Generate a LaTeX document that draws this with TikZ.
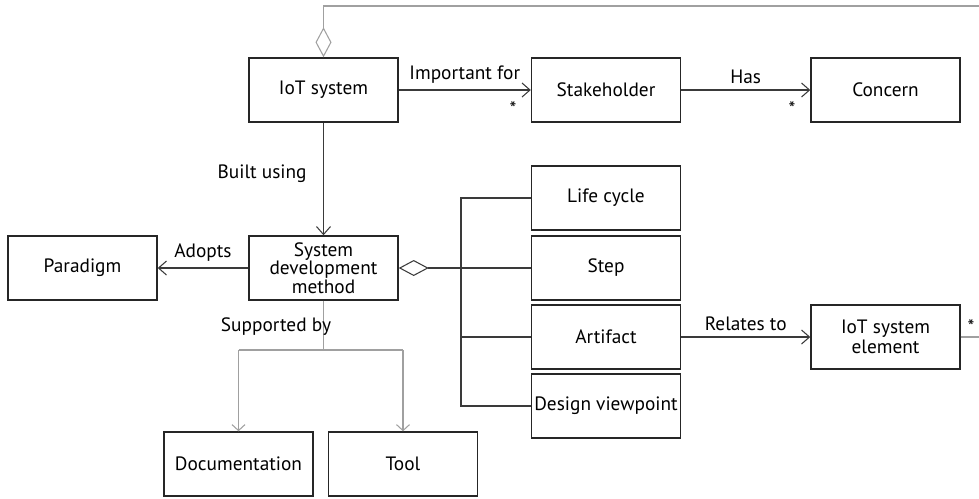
\documentclass[tikz,border=0pt]{standalone}
\usepackage{fontspec}
\setmainfont{PT Sans}
\usepackage{tikz}
\usetikzlibrary{positioning,arrows.meta,calc}
\definecolor{lnk}{HTML}{3A3A3A}
\definecolor{soft}{HTML}{A0A0A0}

\begin{document}
\begin{tikzpicture}[x=0.2mm, y=-0.2mm,
  box/.style={draw=black!85, line width=0.8pt, minimum width=29.8mm, minimum height=12.8mm,
    align=center, font=\fontsize{11}{11}\selectfont, inner sep=1pt},
  assoc/.style={draw=lnk, line width=0.6pt, -{Straight Barb[length=1.6mm, width=2.8mm]}},
  plain/.style={draw=lnk, line width=0.6pt},
  grey/.style={draw=soft, line width=0.6pt},
  agg/.style={{Diamond[open, length=6mm, width=3.2mm]}-},
  lbl/.style={font=\fontsize{11}{12.5}\selectfont},
  mult/.style={font=\fontsize{11}{12}\selectfont}
]
  \useasboundingbox (0,0) rectangle (979,498);

  % --- top row ---
  \node[box] (iot) at (323.5,90) {IoT system};
  \node[box] (stake) at (606,90) {Stakeholder};
  \node[box] (concern) at (885.5,90) {Concern};

  % --- method row ---
  \node[box] (sdm) at (323.5,268) {System\\[-0.5pt]development\\[-0.5pt]method};
  \node[box] (paradigm) at (82.5,268) {Paradigm};

  % --- parts of the method ---
  \node[box] (life) at (606,198) {Life cycle};
  \node[box] (step) at (606,268) {Step};
  \node[box] (artifact) at (606,337) {Artifact};
  \node[box] (viewpt) at (606,406) {Design viewpoint};
  \node[box] (elem) at (885.5,337) {IoT system\\element};

  % --- support ---
  \node[box] (doc) at (238.5,464) {Documentation};
  \node[box] (tool) at (403,464) {Tool};

  % --- associations ---
  \draw[assoc] (iot.east) -- node[lbl, above=0pt]{Important for} (stake.west);
  \node[mult] at (513,109) {*};
  \draw[assoc] (stake.east) -- node[lbl, above=0pt]{Has} (concern.west);
  \node[mult] at (792,109) {*};
  \draw[assoc] (iot.south) -- node[lbl, left=6pt, pos=0.45]{Built using} (sdm.north);
  \draw[assoc] (sdm.west) -- node[lbl, above=0pt]{Adopts} (paradigm.east);
  \draw[assoc] (artifact.east) -- node[lbl, above=0pt]{Relates to} (elem.west);

  % --- aggregations ---
  \coordinate (topr) at (979,6);
  \draw[grey, agg] (iot.north) -- (iot.north |- topr) -- (topr);
  \coordinate (rgtr) at (979,337);
  \draw[grey] (elem.east) -- (rgtr);
  \node[mult] at (971,327) {*};

  \coordinate (bus) at (461,268);
  \draw[plain, agg] (sdm.east) -- (step.west);
  \draw[plain] (life.west) -| (bus |- viewpt.west) -- (viewpt.west);
  \draw[plain] (bus |- artifact.west) -- (artifact.west);

  % --- supported by ---
  \coordinate (fork) at (323.5,350);
  \draw[grey] (sdm.south) -- (fork);
  \node[lbl] at (276,327) {Supported by};
  \draw[grey] (doc.north |- fork) -- (tool.north |- fork);
  \draw[grey, -{Straight Barb[length=1.2mm, width=2.6mm]}] (doc.north |- fork) -- (doc.north);
  \draw[grey, -{Straight Barb[length=1.2mm, width=2.6mm]}] (tool.north |- fork) -- (tool.north);
\end{tikzpicture}
\end{document}
